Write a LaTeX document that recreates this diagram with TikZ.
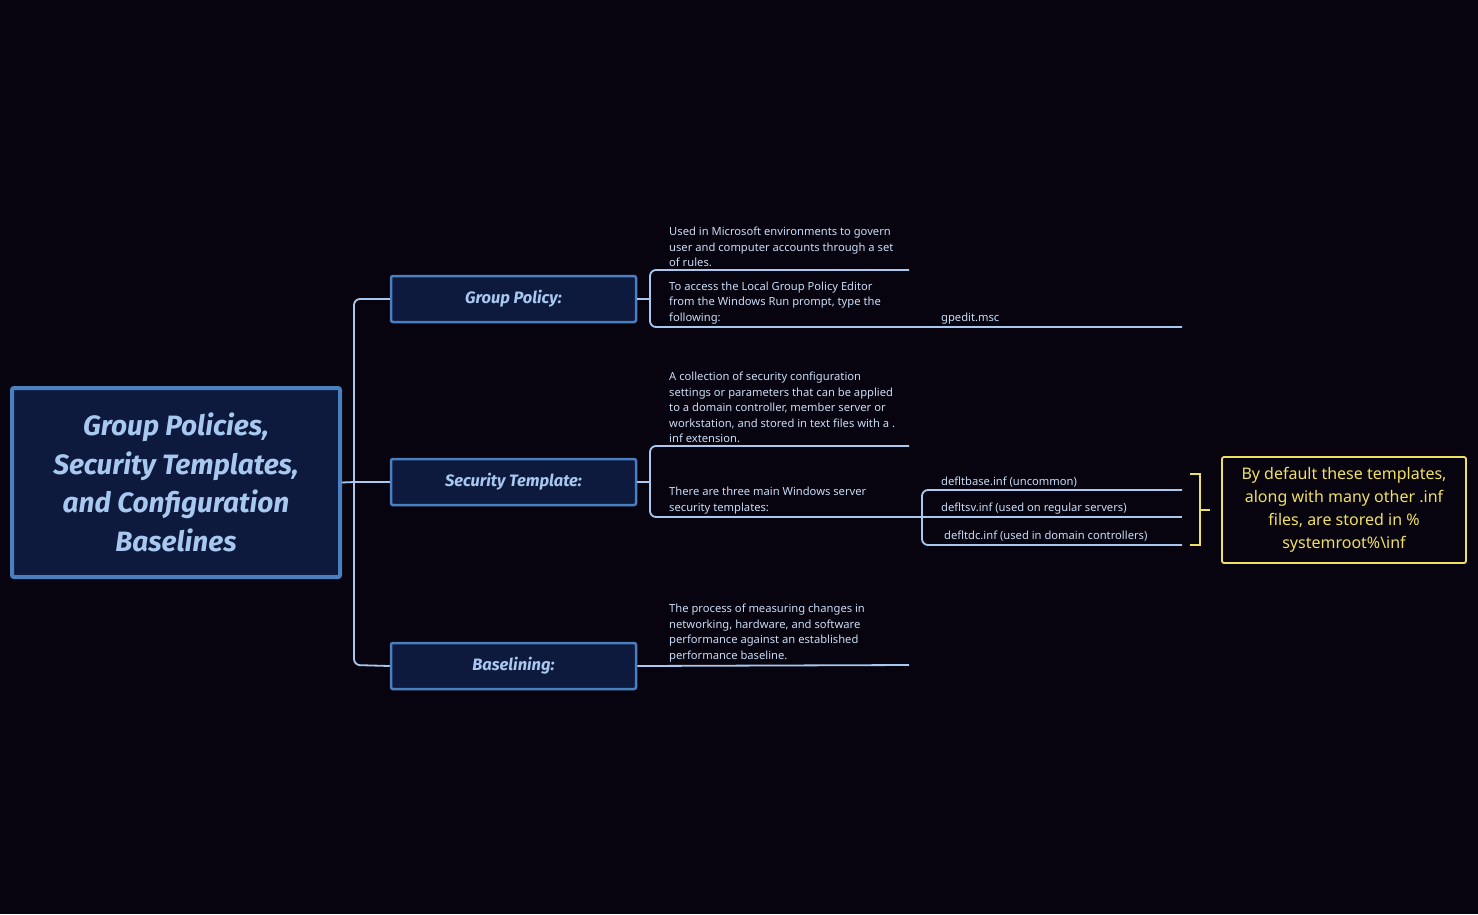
\documentclass[tikz,border=0pt]{standalone}
\usepackage{fontspec}
\setmainfont{Noto Sans}
\newfontfamily\titlefont{Fira Sans}
\begin{document}
\begin{tikzpicture}[x=1pt,y=-1pt,
  ln/.style={draw=lineblue,line width=1.8pt,rounded corners=6pt},
  small/.style={text=textblue,font=\fontsize{11.2}{15.5}\selectfont,anchor=south west,inner sep=0pt,align=left},
  topic/.style={draw=boxblue,line width=2.5pt,fill=boxfill,rounded corners=2pt,minimum width=245pt,minimum height=46pt,text=titleblue,font=\titlefont\fontsize{16.5}{20}\selectfont\itshape\bfseries}]
\definecolor{bg}{HTML}{08040F}
\definecolor{lineblue}{HTML}{A8C8F0}
\definecolor{textblue}{HTML}{C8DCF5}
\definecolor{boxblue}{HTML}{4A7FC0}
\definecolor{boxfill}{HTML}{0D1A3D}
\definecolor{titleblue}{HTML}{A8C8F0}
\definecolor{ylw}{HTML}{F0E060}
\fill[bg] (0,0) rectangle (1478,914);
\useasboundingbox (0,0) rectangle (1478,914);
% root
\node[draw=boxblue,line width=4pt,fill=boxfill,rounded corners=2pt,minimum width=328pt,minimum height=189pt,text=titleblue,align=center,font=\titlefont\fontsize{28}{38.5}\selectfont\itshape\bfseries] (root) at (176,482.5) {Group Policies,\\Security Templates,\\and Configuration\\Baselines};
\node[topic] (gp) at (513.5,299) {Group Policy:};
\node[topic] (st) at (513.5,482) {Security Template:};
\node[topic] (bl) at (513.5,666) {Baselining:};
% trunk
\draw[ln] (root.east) -- (354,482);
\draw[ln] (gp.west) -- (354,299) -- (354,665) -- (bl.west);
\draw[ln] (354,482) -- (st.west);
% group policy
\coordinate (gpa) at (909,270);
\coordinate (gpb) at (1182,327);
\draw[ln] (gp.east) -- (650,299);
\draw[ln] (gpa) -- (650,270) -- (650,327) -- (gpb);
\node[small] (t1) at (669,267) {Used in Microsoft environments to govern\\user and computer accounts through a set\\of rules.};
\node[small] (t2) at (669,324) {To access the Local Group Policy Editor\\from the Windows Run prompt, type the\\following:};
\node[small] (t3) at (941,324) {gpedit.msc};
% security template
\coordinate (sta) at (909,446);
\draw[ln] (st.east) -- (650,482);
\draw[ln] (sta) -- (650,446) -- (650,517) -- (922,517);
\coordinate (s1) at (1182,490);
\coordinate (s2) at (1182,517);
\coordinate (s3) at (1182,545);
\draw[ln] (s1) -- (922,490) -- (922,545) -- (s3);
\draw[ln] (922,517) -- (s2);
\node[small] (t4) at (669,443) {A collection of security configuration\\settings or parameters that can be applied\\to a domain controller, member server or\\workstation, and stored in text files with a .\\inf extension.};
\node[small] (t5) at (669,514) {There are three main Windows server\\security templates:};
\node[small] (t6) at (941,487) {defltbase.inf (uncommon)};
\node[small] (t7) at (941,514) {defltsv.inf (used on regular servers)};
\node[small] (t8) at (944,541) {defltdc.inf (used in domain controllers)};
% baselining
\coordinate (bla) at (909,665);
\draw[ln] (bl.east) -- (bla);
\node[small] (t9) at (669,662) {The process of measuring changes in\\networking, hardware, and software\\performance against an established\\performance baseline.};
% summary
\node[draw=ylw,line width=1.8pt,rounded corners=2pt,fill=bg,minimum width=244pt,minimum height=106pt,text=ylw,align=center,font=\fontsize{16}{23}\selectfont] (sum) at (1344,510) {By default these templates,\\along with many other .inf\\files, are stored in \%\\systemroot\%\textbackslash inf};
\draw[draw=ylw,line width=1.8pt] (1190,474) -- (1200,474) -- (1200,545) -- (1190,545);
\draw[draw=ylw,line width=1.8pt] (1200,510) -- (sum.west -| 1210,510);
\end{tikzpicture}
\end{document}
